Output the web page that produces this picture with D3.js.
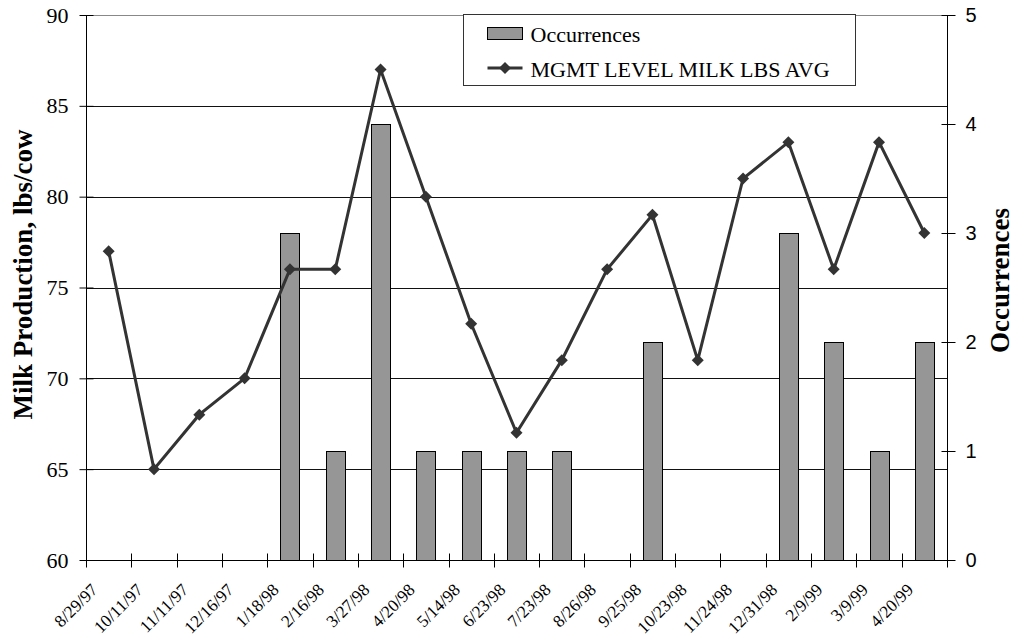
<!DOCTYPE html>
<html>
<head>
<meta charset="utf-8">
<script src="https://cdn.jsdelivr.net/npm/d3@7"></script>
<style>
  html, body { margin: 0; padding: 0; background: #fff; }
  svg { display: block; }
</style>
</head>
<body>
<svg id="chart" width="1015" height="639"></svg>
<script>
// Sample dates (category axis)
const dates = ["8/29/97", "10/11/97", "11/11/97", "12/16/97", "1/18/98", "2/16/98", "3/27/98",
  "4/20/98", "5/14/98", "6/23/98", "7/23/98", "8/26/98", "9/25/98", "10/23/98", "11/24/98",
  "12/31/98", "2/9/99", "3/9/99", "4/20/99"];
// Count of occurrences per date (right axis)
const occurrences = [0, 0, 0, 0, 3, 1, 4, 1, 1, 1, 1, 0, 2, 0, 0, 3, 2, 1, 2];
// Management level milk lbs average (left axis)
const milkAvg = [77, 65, 68, 70, 76, 76, 87, 80, 73, 67, 71, 76, 79, 71, 81, 83, 76, 83, 78];
const leftTicks = [60, 65, 70, 75, 80, 85, 90];
const rightTicks = [0, 1, 2, 3, 4, 5];
const seriesNames = ["Occurrences", "MGMT LEVEL MILK LBS AVG"];

const svg = d3.select("#chart");
const plot = { left: 86, right: 947, top: 15, bottom: 560 };
const serif = "'Liberation Serif', 'Times New Roman', serif";
const sans = "'Liberation Sans', Arial, sans-serif";
const lineColor = "#333333";
const barColor = "#969696";

const x = d3.scaleBand().domain(dates).range([plot.left, plot.right]).padding(0);
const yL = d3.scaleLinear().domain([60, 90]).range([plot.bottom, plot.top]);
const yR = d3.scaleLinear().domain([0, 5]).range([plot.bottom, plot.top]);

// Horizontal gridlines on the left-axis ticks
svg.append("g")
  .selectAll("line")
  .data(leftTicks.filter(t => t > 60))
  .join("line")
  .attr("x1", plot.left).attr("x2", plot.right)
  .attr("y1", d => Math.round(yL(d)) + 0.5)
  .attr("y2", d => Math.round(yL(d)) + 0.5)
  .attr("stroke", d => d === 90 ? "#888" : "#111")
  .attr("stroke-width", 1);

// Bars
const barW = x.bandwidth() * 0.42;
svg.append("g")
  .selectAll("rect")
  .data(dates.map((d, i) => ({ d, v: occurrences[i] })).filter(o => o.v > 0))
  .join("rect")
  .attr("x", o => Math.round(x(o.d) + x.bandwidth() / 2 - barW / 2) + 0.5)
  .attr("y", o => Math.round(yR(o.v)) + 0.5)
  .attr("width", Math.round(barW))
  .attr("height", o => Math.round(yR(0)) - Math.round(yR(o.v)))
  .attr("fill", barColor)
  .attr("stroke", "#000")
  .attr("stroke-width", 1);

// Left axis
const axL = svg.append("g")
  .attr("transform", `translate(${plot.left + 0.5},0)`)
  .call(d3.axisLeft(yL).tickValues(leftTicks).tickSize(7).tickPadding(11));
axL.select(".domain").attr("stroke", "#000").attr("d", `M0,${plot.top}V${plot.bottom}`);
axL.selectAll(".tick line").attr("x1", 7).attr("stroke", "#000");
axL.selectAll(".tick text")
  .attr("font-family", serif).attr("font-size", 22).attr("fill", "#000");

// Right axis
const axR = svg.append("g")
  .attr("transform", `translate(${plot.right + 0.5},0)`)
  .call(d3.axisRight(yR).tickValues(rightTicks).tickFormat(d3.format("d"))
    .tickSize(8).tickPadding(10));
axR.select(".domain").attr("stroke", "#000").attr("d", `M0,${plot.top}V${plot.bottom}`);
axR.selectAll(".tick line").attr("x1", -6).attr("stroke", "#000");
axR.selectAll(".tick text")
  .attr("font-family", sans).attr("font-size", 20).attr("fill", "#000");

// Bottom axis: ticks on category boundaries, labels rotated under each band
const axB = svg.append("g")
  .attr("transform", `translate(0,${plot.bottom + 0.5})`)
  .call(d3.axisBottom(x).tickSize(0).tickFormat(""));
axB.select(".domain").attr("stroke", "#000").attr("d", `M${plot.left},0H${plot.right}`);
axB.selectAll(".tick").remove();
const bounds = dates.map(d => x(d)).concat([x(dates[dates.length - 1]) + x.bandwidth()]);
axB.selectAll("line.bt")
  .data(bounds)
  .join("line")
  .attr("class", "bt")
  .attr("x1", d => Math.round(d) + 0.5).attr("x2", d => Math.round(d) + 0.5)
  .attr("y1", -7).attr("y2", 7)
  .attr("stroke", "#000");
svg.append("g")
  .selectAll("text")
  .data(dates)
  .join("text")
  .attr("transform", d => `translate(${x(d) + x.bandwidth() / 2 - 10},${plot.bottom + 31}) rotate(-45)`)
  .attr("text-anchor", "end")
  .attr("font-family", serif)
  .attr("font-size", 17.3)
  .attr("fill", "#000")
  .text(d => d);

// Line series with diamond markers
const pts = dates.map((d, i) => [x(d) + x.bandwidth() / 2, yL(milkAvg[i])]);
svg.append("path")
  .datum(pts)
  .attr("d", d3.line())
  .attr("fill", "none")
  .attr("stroke", lineColor)
  .attr("stroke-width", 3)
  .attr("stroke-linejoin", "miter");
const marker = d3.symbol().type(d3.symbolSquare).size(72);
svg.append("g")
  .selectAll("path")
  .data(pts)
  .join("path")
  .attr("transform", p => `translate(${p[0]},${p[1]}) rotate(45)`)
  .attr("d", marker)
  .attr("fill", lineColor);

// Axis titles
svg.append("text")
  .attr("transform", `translate(32,${(plot.top + plot.bottom) / 2 - 13}) rotate(-90)`)
  .attr("text-anchor", "middle")
  .attr("font-family", serif).attr("font-weight", "bold").attr("font-size", 27)
  .attr("fill", "#000")
  .text("Milk Production, lbs/cow");
svg.append("text")
  .attr("transform", `translate(1009,${(plot.top + plot.bottom) / 2 - 7}) rotate(-90)`)
  .attr("text-anchor", "middle")
  .attr("font-family", serif).attr("font-weight", "bold").attr("font-size", 27)
  .attr("fill", "#000")
  .text("Occurrences");

// Legend
const lg = svg.append("g").attr("transform", "translate(463.5,14.5)");
lg.append("rect").attr("width", 392).attr("height", 71)
  .attr("fill", "#fff").attr("stroke", "#333").attr("stroke-width", 1);
lg.append("rect").attr("x", 24).attr("y", 13).attr("width", 35).attr("height", 12)
  .attr("fill", barColor).attr("stroke", "#000");
lg.append("text").attr("x", 67).attr("y", 27)
  .attr("font-family", serif).attr("font-size", 22).attr("fill", "#000")
  .text(seriesNames[0]);
lg.append("line").attr("x1", 24).attr("x2", 59).attr("y1", 53.5).attr("y2", 53.5)
  .attr("stroke", lineColor).attr("stroke-width", 3);
lg.append("path").attr("transform", "translate(41.5,53.5) rotate(45)")
  .attr("d", marker)
  .attr("fill", lineColor);
lg.append("text").attr("x", 67).attr("y", 62)
  .attr("font-family", serif).attr("font-size", 22).attr("fill", "#000")
  .text(seriesNames[1]);
</script>
</body>
</html>
